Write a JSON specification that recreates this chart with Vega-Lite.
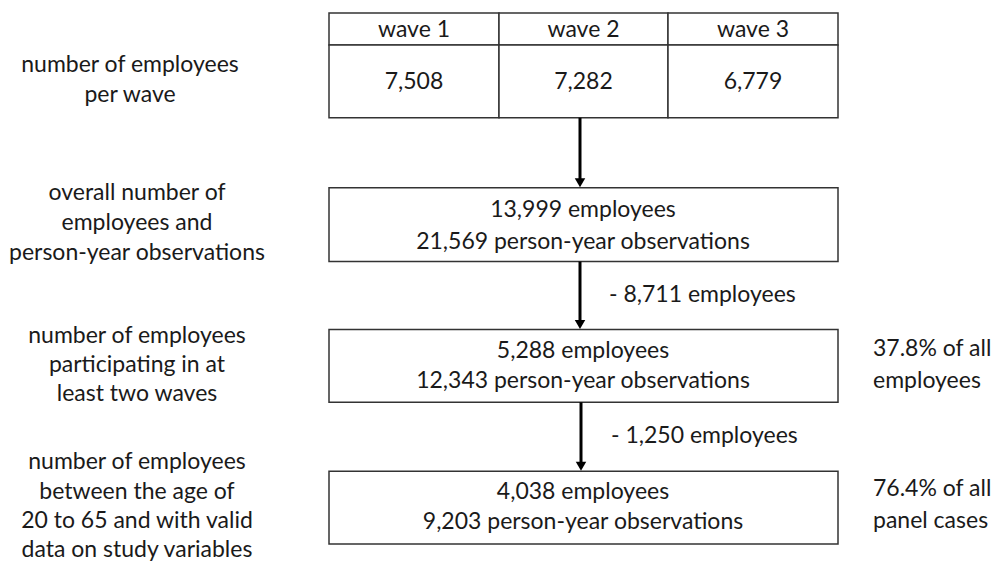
{
  "$schema": "https://vega.github.io/schema/vega-lite/v6.json",
  "width": 992,
  "height": 562,
  "autosize": {"type": "fit", "contains": "padding"},
  "padding": 0,
  "background": "white",
  "config": {"view": {"stroke": null}},
  "datasets": {
    "boxes": [
      {"x": 329, "x2": 499, "y": 13, "y2": 45},
      {"x": 499, "x2": 668, "y": 13, "y2": 45},
      {"x": 668, "x2": 838, "y": 13, "y2": 45},
      {"x": 329, "x2": 499, "y": 45, "y2": 118},
      {"x": 499, "x2": 668, "y": 45, "y2": 118},
      {"x": 668, "x2": 838, "y": 45, "y2": 118},
      {"x": 329, "x2": 838, "y": 188, "y2": 262},
      {"x": 329, "x2": 838, "y": 330, "y2": 403},
      {"x": 329, "x2": 838, "y": 472, "y2": 545}
    ],
    "arrows": [
      {"x": 580, "y": 118, "y2": 181, "tip": 183},
      {"x": 580, "y": 262, "y2": 323, "tip": 325},
      {"x": 581, "y": 403, "y2": 465, "tip": 467}
    ],
    "labels": [
      {"text": "wave 1", "x": 414, "y": 30, "align": "center"},
      {"text": "wave 2", "x": 583.5, "y": 30, "align": "center"},
      {"text": "wave 3", "x": 753, "y": 30, "align": "center"},
      {"text": "7,508", "x": 414, "y": 82, "align": "center"},
      {"text": "7,282", "x": 583.5, "y": 82, "align": "center"},
      {"text": "6,779", "x": 753, "y": 82, "align": "center"},
      {"text": "13,999 employees", "x": 583, "y": 210, "align": "center"},
      {"text": "21,569 person-year observations", "x": 583, "y": 242, "align": "center"},
      {"text": "5,288 employees", "x": 583, "y": 352, "align": "center"},
      {"text": "12,343 person-year observations", "x": 583, "y": 382, "align": "center"},
      {"text": "4,038 employees", "x": 583, "y": 493, "align": "center"},
      {"text": "9,203 person-year observations", "x": 583, "y": 523, "align": "center"},
      {"text": "number of employees", "x": 130, "y": 65, "align": "center"},
      {"text": "per wave", "x": 130, "y": 95, "align": "center"},
      {"text": "overall number of", "x": 137, "y": 193, "align": "center"},
      {"text": "employees and", "x": 137, "y": 223, "align": "center"},
      {"text": "person-year observations", "x": 137, "y": 253, "align": "center"},
      {"text": "number of employees", "x": 137, "y": 337, "align": "center"},
      {"text": "participating in at", "x": 137, "y": 366, "align": "center"},
      {"text": "least two waves", "x": 137, "y": 395, "align": "center"},
      {"text": "number of employees", "x": 137, "y": 463, "align": "center"},
      {"text": "between the age of", "x": 137, "y": 493, "align": "center"},
      {"text": "20 to 65 and with valid", "x": 137, "y": 522, "align": "center"},
      {"text": "data on study variables", "x": 137, "y": 551, "align": "center"},
      {"text": "- 8,711 employees", "x": 609, "y": 296, "align": "left"},
      {"text": "- 1,250 employees", "x": 611, "y": 437, "align": "left"},
      {"text": "37.8% of all", "x": 873, "y": 350, "align": "left"},
      {"text": "employees", "x": 873, "y": 382, "align": "left"},
      {"text": "76.4% of all", "x": 873, "y": 490, "align": "left"},
      {"text": "panel cases", "x": 873, "y": 522, "align": "left"}
    ]
  },
  "layer": [
    {
      "data": {"name": "boxes"},
      "mark": {"type": "rect", "fill": "white", "stroke": "#333333", "strokeWidth": 1.5},
      "encoding": {
        "x": {"field": "x", "type": "quantitative", "scale": {"domain": [0, 992], "nice": false, "zero": false}, "axis": null},
        "x2": {"field": "x2"},
        "y": {"field": "y", "type": "quantitative", "scale": {"domain": [0, 562], "reverse": true, "nice": false, "zero": false}, "axis": null},
        "y2": {"field": "y2"}
      }
    },
    {
      "data": {"name": "arrows"},
      "mark": {"type": "rule", "stroke": "black", "strokeWidth": 3},
      "encoding": {
        "x": {"field": "x", "type": "quantitative"},
        "y": {"field": "y", "type": "quantitative"},
        "y2": {"field": "y2"}
      }
    },
    {
      "data": {"name": "arrows"},
      "mark": {"type": "point", "shape": "triangle-down", "filled": true, "fill": "black", "size": 110, "opacity": 1},
      "encoding": {
        "x": {"field": "x", "type": "quantitative"},
        "y": {"field": "tip", "type": "quantitative"}
      }
    },
    {
      "data": {"name": "labels"},
      "transform": [{"filter": "datum.align === 'center'"}],
      "mark": {"type": "text", "font": "Lato", "fontSize": 23, "color": "#1a1a1a", "align": "center", "baseline": "middle"},
      "encoding": {
        "x": {"field": "x", "type": "quantitative"},
        "y": {"field": "y", "type": "quantitative"},
        "text": {"field": "text"}
      }
    },
    {
      "data": {"name": "labels"},
      "transform": [{"filter": "datum.align === 'left'"}],
      "mark": {"type": "text", "font": "Lato", "fontSize": 23, "color": "#1a1a1a", "align": "left", "baseline": "middle"},
      "encoding": {
        "x": {"field": "x", "type": "quantitative"},
        "y": {"field": "y", "type": "quantitative"},
        "text": {"field": "text"}
      }
    }
  ]
}
